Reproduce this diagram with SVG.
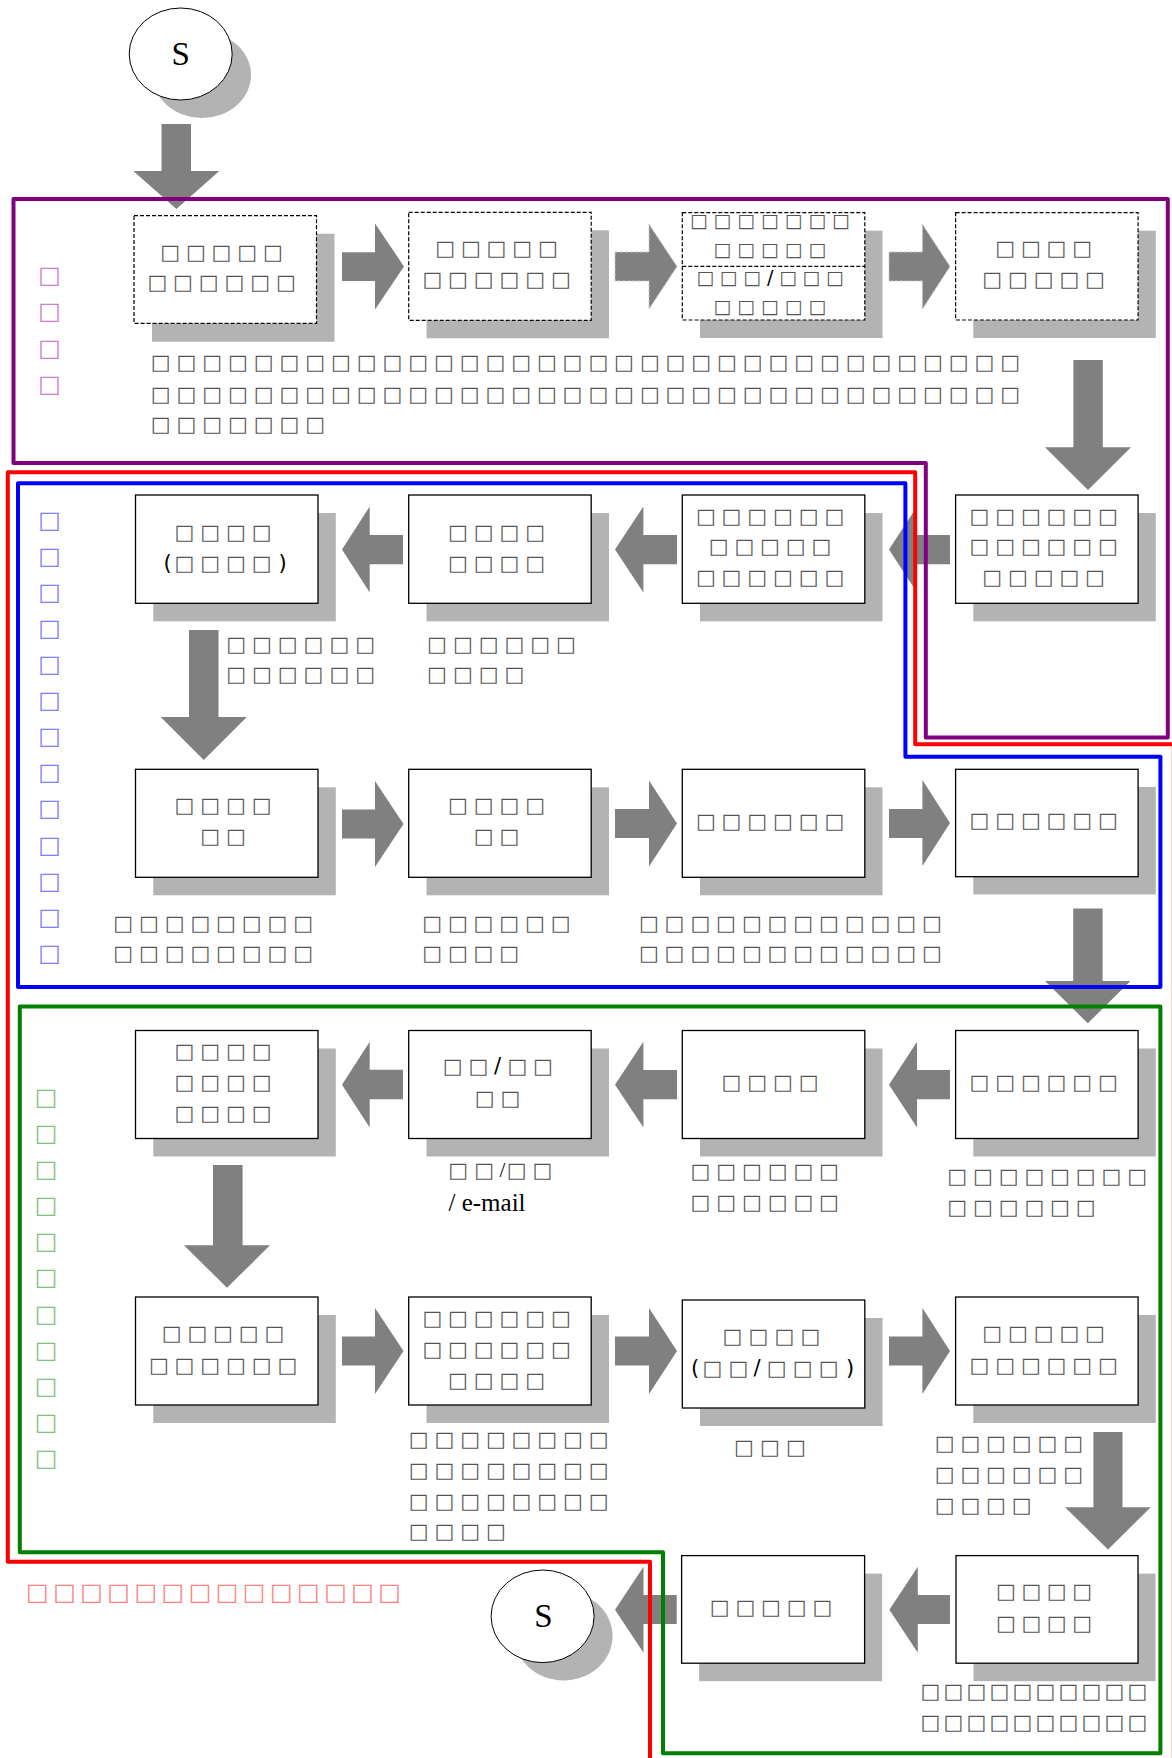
<svg xmlns="http://www.w3.org/2000/svg" width="1172" height="1758" viewBox="0 0 1172 1758">
<style>
.b{fill:#fff;stroke:#000;stroke-width:1.3}
.bd{fill:#fff;stroke:#000;stroke-width:1.2;stroke-dasharray:4 2}
.dv{stroke:#000;stroke-width:1.2;stroke-dasharray:4 2}
.sh{fill:#b3b3b3}
.t{font-family:"DejaVu Sans",sans-serif;font-size:21px;fill:#555;text-anchor:middle;transform:translate(0px,-2px)}
.ts{font-size:19px}
.k{fill:#000}
.sf{font-family:"Liberation Serif",serif}
.ar{fill:#808080}
.ard{fill:#808080;stroke:#c8c8c8;stroke-width:1;stroke-dasharray:3 2}
.sv{font-family:"DejaVu Sans",sans-serif;font-size:24px;text-anchor:middle;transform:translate(0px,-2px)}
.reg{fill:none;stroke-width:4;stroke-linejoin:round}
.cs{fill:#fff;stroke:#000;stroke-width:1}
.st{font-family:"Liberation Serif",serif;font-size:33px;fill:#000;text-anchor:middle}
</style>

<g id="start">
<ellipse class="sh" cx="202" cy="75" rx="49" ry="43"/>
<ellipse class="cs" cx="180.7" cy="54" rx="51.5" ry="46"/>
<text class="st" x="180.7" y="65">S</text>
</g>

<g id="n1">
<rect class="sh" x="152" y="233.7" width="182.5" height="108"/>
<rect class="bd" x="134" y="215.7" width="182.5" height="107.6"/>
<text class="t" x="170.1 195.8 221.5 247.2 272.9" y="260.7">□□□□□</text>
<text class="t" x="157.3 183 208.7 234.4 260.1 285.8" y="291">□□□□□□</text>
</g>
<g id="n2">
<rect class="sh" x="426.5" y="230.3" width="182.5" height="108"/>
<rect class="bd" x="408.7" y="212.3" width="182.5" height="108"/>
<text class="t" x="445.1 470.8 496.5 522.2 547.9" y="257.3">□□□□□</text>
<text class="t" x="432.3 458 483.7 509.4 535.1 560.8" y="288.3">□□□□□□</text>
</g>
<g id="n3">
<rect class="sh" x="700" y="230.7" width="182.5" height="107.3"/>
<rect class="bd" x="682.3" y="212.7" width="182.5" height="107.3"/>
<line class="dv" x1="682.3" y1="266.3" x2="864.8" y2="266.3"/>
<text class="t ts" x="698.9 722.6 746.3 770 793.7 817.4 841.1" y="229.3">□□□□□□□</text>
<text class="t ts" x="722.6 746.3 770 793.7 817.4" y="257.5">□□□□□</text>
<text class="t ts" x="705.4 728.8 752.2 770.2 788.2 811.6 835" y="286.3">□□□<tspan class="k">/</tspan>□□□</text>
<text class="t ts" x="722.6 746.3 770 793.7 817.4" y="314.5">□□□□□</text>
</g>
<g id="n4">
<rect class="sh" x="973.3" y="230.7" width="182.5" height="107.3"/>
<rect class="bd" x="955.6" y="212.7" width="182.5" height="107.3"/>
<text class="t" x="1005.1 1030.8 1056.5 1082.2" y="257.3">□□□□</text>
<text class="t" x="992.2 1017.9 1043.6 1069.3 1095" y="288.3">□□□□□</text>
</g>
<g id="d1">
<text class="t" x="160.7 186.4 212.2 237.9 263.7 289.4 315.1 340.9 366.6 392.4 418.1 443.8 469.6 495.3 521.1 546.8 572.5 598.3 624 649.8 675.5 701.2 727 752.7 778.5 804.2 829.9 855.7 881.4 907.2 932.9 958.6 984.4 1010.1" y="371.3">□□□□□□□□□□□□□□□□□□□□□□□□□□□□□□□□□□</text>
<text class="t" x="160.7 186.4 212.2 237.9 263.7 289.4 315.1 340.9 366.6 392.4 418.1 443.8 469.6 495.3 521.1 546.8 572.5 598.3 624 649.8 675.5 701.2 727 752.7 778.5 804.2 829.9 855.7 881.4 907.2 932.9 958.6 984.4 1010.1" y="402.5">□□□□□□□□□□□□□□□□□□□□□□□□□□□□□□□□□□</text>
<text class="t" x="160.7 186.4 212.2 237.9 263.7 289.4 315.1" y="433.3">□□□□□□□</text>
</g>

<g id="n5">
<rect class="sh" x="973.3" y="513" width="182.5" height="108.3"/>
<rect class="b" x="955.6" y="495" width="182.5" height="108.3"/>
<text class="t" x="979.4 1005.1 1030.8 1056.5 1082.2 1107.9" y="524.5">□□□□□□</text>
<text class="t" x="979.4 1005.1 1030.8 1056.5 1082.2 1107.9" y="555.3">□□□□□□</text>
<text class="t" x="992.2 1017.9 1043.6 1069.3 1095" y="586.3">□□□□□</text>
</g>
<g id="n6">
<rect class="sh" x="700" y="513" width="182.5" height="108.3"/>
<rect class="b" x="682.3" y="495" width="182.5" height="108.3"/>
<text class="t" x="705.8 731.5 757.2 782.9 808.6 834.3" y="524.5">□□□□□□</text>
<text class="t" x="718.6 744.3 770 795.7 821.4" y="555.3">□□□□□</text>
<text class="t" x="705.8 731.5 757.2 782.9 808.6 834.3" y="586.3">□□□□□□</text>
</g>
<g id="n7">
<rect class="sh" x="426.5" y="513" width="182.5" height="108.3"/>
<rect class="b" x="408.7" y="495" width="182.5" height="108.3"/>
<text class="t" x="458 483.7 509.4 535.1" y="540.5">□□□□</text>
<text class="t" x="458 483.7 509.4 535.1" y="571.7">□□□□</text>
</g>
<g id="n8">
<rect class="sh" x="153.3" y="513" width="182.5" height="108.3"/>
<rect class="b" x="135.5" y="495" width="182.5" height="108.3"/>
<text class="t" x="184.5 210.2 235.9 261.6" y="540.5">□□□□</text>
<text class="t" x="167.5 184.5 210.2 235.9 261.6 282.5" y="571.7"><tspan class="k">(</tspan>□□□□<tspan class="k">)</tspan></text>
</g>
<g id="d2">
<text class="t" x="236.1 261.9 287.7 313.5 339.3 365.1" y="652.5">□□□□□□</text>
<text class="t" x="236.1 261.9 287.7 313.5 339.3 365.1" y="683.3">□□□□□□</text>
<text class="t" x="437 462.8 488.6 514.4 540.2 566" y="652.5">□□□□□□</text>
<text class="t" x="437 462.8 488.6 514.4" y="683.3">□□□□</text>
</g>

<g id="n9">
<rect class="sh" x="153.3" y="787.3" width="182.5" height="108"/>
<rect class="b" x="135.5" y="769.3" width="182.5" height="108"/>
<text class="t" x="184.5 210.2 235.9 261.6" y="814.3">□□□□</text>
<text class="t" x="210.2 235.9" y="845">□□</text>
</g>
<g id="n10">
<rect class="sh" x="426.5" y="787.3" width="182.5" height="108"/>
<rect class="b" x="408.7" y="769.3" width="182.5" height="108"/>
<text class="t" x="458 483.7 509.4 535.1" y="814.3">□□□□</text>
<text class="t" x="483.7 509.4" y="845">□□</text>
</g>
<g id="n11">
<rect class="sh" x="700" y="787.3" width="182.5" height="108"/>
<rect class="b" x="682.3" y="769.3" width="182.5" height="108"/>
<text class="t" x="705.8 731.5 757.2 782.9 808.6 834.3" y="830">□□□□□□</text>
</g>
<g id="n12">
<rect class="sh" x="973.3" y="787" width="182.5" height="107.4"/>
<rect class="b" x="955.6" y="769.3" width="182.5" height="107.4"/>
<text class="t" x="979.4 1005.1 1030.8 1056.5 1082.2 1107.9" y="829">□□□□□□</text>
</g>
<g id="d3">
<text class="t" x="123.2 148.9 174.6 200.3 226 251.7 277.4 303.1" y="931.7">□□□□□□□□</text>
<text class="t" x="123.2 148.9 174.6 200.3 226 251.7 277.4 303.1" y="962.3">□□□□□□□□</text>
<text class="t" x="432.1 457.8 483.5 509.2 534.9 560.6" y="931.7">□□□□□□</text>
<text class="t" x="432.1 457.8 483.5 509.2" y="962.3">□□□□</text>
<text class="t" x="648.8 674.5 700.3 726 751.8 777.5 803.2 829 854.7 880.5 906.2 931.9" y="931.7">□□□□□□□□□□□□</text>
<text class="t" x="648.8 674.5 700.3 726 751.8 777.5 803.2 829 854.7 880.5 906.2 931.9" y="962.3">□□□□□□□□□□□□</text>
</g>

<g id="n13">
<rect class="sh" x="973.3" y="1048.5" width="182.5" height="108"/>
<rect class="b" x="955.6" y="1030.5" width="182.5" height="108"/>
<text class="t" x="979.4 1005.1 1030.8 1056.5 1082.2 1107.9" y="1090.8">□□□□□□</text>
</g>
<g id="n14">
<rect class="sh" x="700" y="1048.5" width="182.5" height="108"/>
<rect class="b" x="682.3" y="1030.5" width="182.5" height="108"/>
<text class="t" x="731.5 757.2 782.9 808.6" y="1090.8">□□□□</text>
</g>
<g id="n15">
<rect class="sh" x="426.5" y="1048.5" width="182.5" height="108"/>
<rect class="b" x="408.7" y="1030.5" width="182.5" height="108"/>
<text class="t" x="452.7 478.4 497.5 517.4 543" y="1075">□□<tspan class="k">/</tspan>□□</text>
<text class="t" x="484.6 510.3" y="1106.5">□□</text>
</g>
<g id="n16">
<rect class="sh" x="153.3" y="1048.5" width="182.5" height="108"/>
<rect class="b" x="135.5" y="1030.5" width="182.5" height="108"/>
<text class="t" x="184.5 210.2 235.9 261.6" y="1060.3">□□□□</text>
<text class="t" x="184.5 210.2 235.9 261.6" y="1091">□□□□</text>
<text class="t" x="184.5 210.2 235.9 261.6" y="1122.4">□□□□</text>
</g>
<g id="d4">
<text class="t" x="458.1 484.1 502.5 516.6 542.3" y="1178.6">□□<tspan class="k sf">/</tspan>□□</text>
<text class="sf" x="448.5" y="1211" font-size="25" fill="#000">/ e-mail</text>
<text class="t" x="700.5 726.2 751.9 777.6 803.3 829" y="1179.6">□□□□□□</text>
<text class="t" x="700.5 726.2 751.9 777.6 803.3 829" y="1210.5">□□□□□□</text>
<text class="t" x="957.2 982.9 1008.6 1034.3 1060 1085.7 1111.4 1137.1" y="1184.8">□□□□□□□□</text>
<text class="t" x="957.2 982.9 1008.6 1034.3 1060 1085.7" y="1215.6">□□□□□□</text>
</g>

<g id="n17">
<rect class="sh" x="153.3" y="1315" width="182.5" height="108"/>
<rect class="b" x="135.5" y="1297" width="182.5" height="108"/>
<text class="t" x="171.6 197.3 223 248.7 274.4" y="1342.4">□□□□□</text>
<text class="t" x="158.8 184.5 210.2 235.9 261.6 287.3" y="1373.8">□□□□□□</text>
</g>
<g id="n18">
<rect class="sh" x="426.5" y="1315" width="182.5" height="108"/>
<rect class="b" x="408.7" y="1297" width="182.5" height="108"/>
<text class="t" x="432.3 458 483.7 509.4 535.1 560.8" y="1326.6">□□□□□□</text>
<text class="t" x="432.3 458 483.7 509.4 535.1 560.8" y="1358">□□□□□□</text>
<text class="t" x="458 483.7 509.4 535.1" y="1388.8">□□□□</text>
</g>
<g id="n19">
<rect class="sh" x="700" y="1318" width="182.5" height="108"/>
<rect class="b" x="682.3" y="1300" width="182.5" height="108"/>
<text class="t" x="732.4 758.4 784.4 810.4" y="1345.1">□□□□</text>
<text class="t" x="695 712.3 738.4 757 776.6 802.7 828.7 850" y="1376.8"><tspan class="k">(</tspan>□□<tspan class="k">/</tspan>□□□<tspan class="k">)</tspan></text>
</g>
<g id="n20">
<rect class="sh" x="973.3" y="1315" width="182.5" height="108"/>
<rect class="b" x="955.6" y="1297" width="182.5" height="108"/>
<text class="t" x="992.2 1017.9 1043.6 1069.3 1095" y="1342.4">□□□□□</text>
<text class="t" x="979.4 1005.1 1030.8 1056.5 1082.2 1107.9" y="1373.8">□□□□□□</text>
</g>
<g id="d5">
<text class="t" x="418.7 444.4 470.1 495.8 521.5 547.2 572.9 598.6" y="1448">□□□□□□□□</text>
<text class="t" x="418.7 444.4 470.1 495.8 521.5 547.2 572.9 598.6" y="1479">□□□□□□□□</text>
<text class="t" x="418.7 444.4 470.1 495.8 521.5 547.2 572.9 598.6" y="1509.8">□□□□□□□□</text>
<text class="t" x="418.7 444.4 470.1 495.8" y="1540">□□□□</text>
<text class="t" x="743.8 769.8 795.9" y="1456">□□□</text>
<text class="t" x="944.6 970.3 996 1021.7 1047.4 1073.1" y="1452.4">□□□□□□</text>
<text class="t" x="944.6 970.3 996 1021.7 1047.4 1073.1" y="1483.1">□□□□□□</text>
<text class="t" x="944.6 970.3 996 1021.7" y="1514.2">□□□□</text>
</g>

<g id="n21">
<rect class="sh" x="973.5" y="1573.6" width="182" height="107.6"/>
<rect class="b" x="956" y="1555.6" width="182" height="107.6"/>
<text class="t" x="1005.9 1031.3 1056.7 1082.1" y="1600.2">□□□□</text>
<text class="t" x="1005.9 1031.3 1056.7 1082.1" y="1631.7">□□□□</text>
</g>
<g id="n22">
<rect class="sh" x="699.1" y="1573.6" width="183" height="107.6"/>
<rect class="b" x="681.6" y="1555.6" width="183" height="107.6"/>
<text class="t" x="719.6 745.3 771 796.7 822.4" y="1615.8">□□□□□</text>
</g>
<g id="d6">
<text class="t" x="930.3 953.3 976.3 999.3 1022.3 1045.3 1068.3 1091.3 1114.3 1137.3" y="1700.3">□□□□□□□□□□</text>
<text class="t" x="930.3 953.3 976.3 999.3 1022.3 1045.3 1068.3 1091.3 1114.3 1137.3" y="1731.2">□□□□□□□□□□</text>
</g>
<g id="end">
<ellipse class="sh" cx="563.6" cy="1636" rx="49" ry="44.5"/>
<ellipse class="cs" cx="542.6" cy="1616.3" rx="51.5" ry="46.3"/>
<text class="st" x="543.4" y="1627.3">S</text>
</g>

<g id="connectors">
<path class="ar" d="M161.5 124 H191 V171 H219.3 L176.4 209 L133.3 171 H161.5 Z"/>
<path class="ar" d="M342 252.3 H375 V223.5 L404 266.5 L375 309.5 V281 H342 Z"/>
<path class="ard" d="M615 252 H649 V224.3 L677 266.5 L649 309 V281 H615 Z"/>
<path class="ard" d="M889 252 H922.4 V224.3 L950 266.5 L922.4 309 V281 H889 Z"/>
<path class="ar" d="M1073.4 360 H1102.8 V447.3 H1131 L1088 490 L1045 447.3 H1073.4 Z"/>
<path class="ar" d="M950 535 H917 V506.5 L889 549.5 L917 592.5 V564.3 H950 Z"/>
<path class="ar" d="M677 535 H643.4 V506.5 L615 549.5 L643.4 592.5 V564.3 H677 Z"/>
<path class="ar" d="M403 535 H369.7 V506.5 L342 549.5 L369.7 592.5 V564.3 H403 Z"/>
<path class="ar" d="M189 630 H218.5 V717 H246.8 L203.8 760 L160.7 717 H189 Z"/>
<path class="ar" d="M342 809.5 H375 V781 L403.5 824 L375 867 V838.5 H342 Z"/>
<path class="ar" d="M615 809 H649 V780.5 L677 823.5 L649 866.5 V838 H615 Z"/>
<path class="ar" d="M889 809 H922.4 V780 L950 823 L922.4 866 V838 H889 Z"/>
<path class="ar" d="M1073.2 908.4 H1102.6 V981 H1130.5 L1087.8 1023.3 L1045 981 H1073.2 Z"/>
<path class="ar" d="M950 1070 H917 V1041.8 L889 1084.7 L917 1127.6 V1099.3 H950 Z"/>
<path class="ar" d="M677 1070 H643.4 V1041.8 L615 1084.7 L643.4 1127.6 V1099.3 H677 Z"/>
<path class="ar" d="M403 1069.8 H369.7 V1041.8 L342 1084.7 L369.7 1127.6 V1099.3 H403 Z"/>
<path class="ar" d="M213 1165 H242.6 V1245.3 H270 L227 1287.8 L184 1245.3 H213 Z"/>
<path class="ar" d="M342 1336.5 H375 V1308 L403.5 1351 L375 1394 V1365.5 H342 Z"/>
<path class="ar" d="M615 1336.5 H649 V1308 L677 1351 L649 1394 V1365.5 H615 Z"/>
<path class="ar" d="M889 1336.5 H922.4 V1308 L950 1351 L922.4 1394 V1365.5 H889 Z"/>
<path class="ar" d="M1093.4 1432 H1122.5 V1507.2 H1150.8 L1108 1549.4 L1065 1507.2 H1093.4 Z"/>
<path class="ar" d="M950 1595 H917.8 V1566.7 L889.4 1609.7 L917.8 1652.7 V1624 H950 Z"/>
<path class="ar" d="M676.7 1595 H643.5 V1566.7 L615 1609.7 L643.5 1652.7 V1624 H676.7 Z"/>
</g>

<g id="regions">
<path class="reg" stroke="#800080" d="M13.5 199 H1167.8 V737.5 H925.8 V463 H13.5 Z"/>
<path class="reg" stroke="#ff0000" d="M650 1762 V1561.7 H7.8 V472.3 H915.2 V744.3 H1173.8 V1762"/>
<path class="reg" stroke="#0000ff" d="M18 483.3 H905.4 V756.7 H1160.4 V987 H18 Z"/>
<path class="reg" stroke="#008000" d="M19.8 1006.5 H1160.4 V1753.3 H663 V1552.3 H19.8 Z"/>
<text class="sv" fill="#cc80cc" x="49.7 49.7 49.7 49.7" y="285.2 321.3 357.5 393.5">□□□□</text>
<text class="sv" fill="#8080ff" x="49.7 49.7 49.7 49.7 49.7 49.7 49.7 49.7 49.7 49.7 49.7 49.7 49.7" y="529.7 566.3 602.3 638.3 674.3 710.3 746.3 782.3 818.3 854.7 890.7 926.7 962.7">□□□□□□□□□□□□□</text>
<text class="sv" fill="#80c080" x="46 46 46 46 46 46 46 46 46 46 46" y="1107.1 1143 1179.3 1215.2 1251.4 1287.3 1323.6 1359.5 1395.7 1431.6 1467.8">□□□□□□□□□□□</text>
<text class="sv" fill="#ff8080" x="37.4 64.5 91.6 118.7 145.8 172.9 200 227.1 254.2 281.3 308.4 335.5 362.6 389.7" y="1601.8">□□□□□□□□□□□□□□</text>
</g>
</svg>
